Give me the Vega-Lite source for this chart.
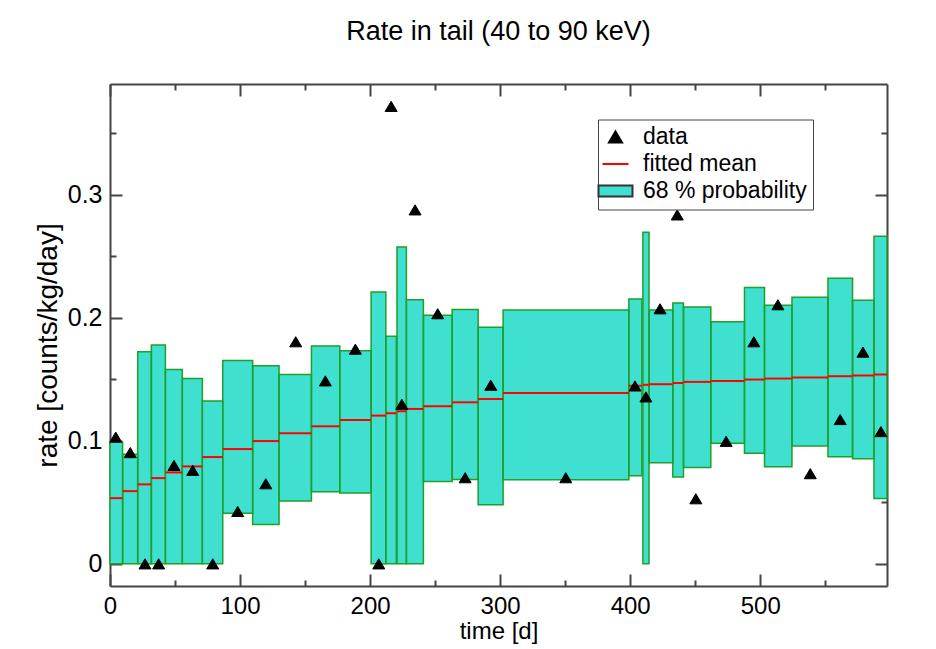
{
  "$schema": "https://vega.github.io/schema/vega-lite/v6.json",
  "autosize": "none",
  "width": 777,
  "height": 502,
  "padding": {"left": 110, "top": 84, "right": 49, "bottom": 63},
  "background": "white",
  "title": {"text": "Rate in tail (40 to 90 keV)", "fontSize": 27, "fontWeight": "normal", "font": "Liberation Sans", "color": "black", "anchor": "middle", "frame": "group", "offset": 37},
  "datasets": {
    "boxes": [
      {"x1": 0, "x2": 9.7, "lo": 0, "hi": 0.099, "mean": 0.0534},
      {"x1": 9.7, "x2": 21.3, "lo": 0, "hi": 0.089, "mean": 0.0591},
      {"x1": 21.3, "x2": 31.8, "lo": 0, "hi": 0.1723, "mean": 0.0646},
      {"x1": 31.8, "x2": 42.6, "lo": 0, "hi": 0.1778, "mean": 0.0697},
      {"x1": 42.6, "x2": 55.6, "lo": 0, "hi": 0.158, "mean": 0.0743},
      {"x1": 55.6, "x2": 71.0, "lo": 0, "hi": 0.1506, "mean": 0.0792},
      {"x1": 71.0, "x2": 86.7, "lo": 0, "hi": 0.1324, "mean": 0.0868},
      {"x1": 86.7, "x2": 109.7, "lo": 0.0412, "hi": 0.1653, "mean": 0.0933},
      {"x1": 109.7, "x2": 130.0, "lo": 0.032, "hi": 0.161, "mean": 0.0998},
      {"x1": 130.0, "x2": 154.9, "lo": 0.051, "hi": 0.1539, "mean": 0.1061},
      {"x1": 154.9, "x2": 176.7, "lo": 0.0586, "hi": 0.177, "mean": 0.1118},
      {"x1": 176.7, "x2": 200.8, "lo": 0.0575, "hi": 0.1731, "mean": 0.117},
      {"x1": 200.8, "x2": 212.1, "lo": 0, "hi": 0.221, "mean": 0.1205},
      {"x1": 212.1, "x2": 220.2, "lo": 0, "hi": 0.185, "mean": 0.1224},
      {"x1": 220.7, "x2": 227.9, "lo": 0, "hi": 0.2576, "mean": 0.124},
      {"x1": 227.9, "x2": 241.0, "lo": 0, "hi": 0.2147, "mean": 0.1259},
      {"x1": 241.0, "x2": 263.1, "lo": 0.067, "hi": 0.202, "mean": 0.1281},
      {"x1": 263.1, "x2": 283.1, "lo": 0.0686, "hi": 0.2068, "mean": 0.1313},
      {"x1": 283.1, "x2": 302.3, "lo": 0.048, "hi": 0.1922, "mean": 0.134},
      {"x1": 302.3, "x2": 399.0, "lo": 0.0684, "hi": 0.2063, "mean": 0.1389},
      {"x1": 399.0, "x2": 409.0, "lo": 0.0717, "hi": 0.2153, "mean": 0.1447},
      {"x1": 409.8, "x2": 414.5, "lo": 0, "hi": 0.2695, "mean": 0.1455},
      {"x1": 414.5, "x2": 432.8, "lo": 0.0822, "hi": 0.2063, "mean": 0.146},
      {"x1": 432.8, "x2": 441.0, "lo": 0.0705, "hi": 0.212, "mean": 0.147},
      {"x1": 441.0, "x2": 462.0, "lo": 0.0784, "hi": 0.2087, "mean": 0.1479},
      {"x1": 462.0, "x2": 487.9, "lo": 0.098, "hi": 0.1968, "mean": 0.1487},
      {"x1": 487.9, "x2": 503.3, "lo": 0.0898, "hi": 0.2247, "mean": 0.1498},
      {"x1": 503.3, "x2": 524.4, "lo": 0.079, "hi": 0.2101, "mean": 0.1506},
      {"x1": 524.4, "x2": 552.1, "lo": 0.0958, "hi": 0.2166, "mean": 0.1515},
      {"x1": 552.1, "x2": 571.0, "lo": 0.0871, "hi": 0.2321, "mean": 0.1525},
      {"x1": 571.0, "x2": 587.5, "lo": 0.0855, "hi": 0.2142, "mean": 0.1531},
      {"x1": 587.5, "x2": 597.5, "lo": 0.0532, "hi": 0.2663, "mean": 0.1539}
    ],
    "points": [
      {"t": 4.4, "r": 0.103, "series": "data"},
      {"t": 15.6, "r": 0.0904, "series": "data"},
      {"t": 26.9, "r": 0, "series": "data"},
      {"t": 37.4, "r": 0, "series": "data"},
      {"t": 49.2, "r": 0.08, "series": "data"},
      {"t": 63.6, "r": 0.076, "series": "data"},
      {"t": 79, "r": 0, "series": "data"},
      {"t": 98.2, "r": 0.0426, "series": "data"},
      {"t": 119.8, "r": 0.0651, "series": "data"},
      {"t": 142.8, "r": 0.1805, "series": "data"},
      {"t": 165.6, "r": 0.1487, "series": "data"},
      {"t": 188.7, "r": 0.1745, "series": "data"},
      {"t": 206.7, "r": 0, "series": "data"},
      {"t": 216.2, "r": 0.3718, "series": "data"},
      {"t": 224.4, "r": 0.1297, "series": "data"},
      {"t": 234.6, "r": 0.2877, "series": "data"},
      {"t": 252, "r": 0.2033, "series": "data"},
      {"t": 273.1, "r": 0.07, "series": "data"},
      {"t": 292.8, "r": 0.1452, "series": "data"},
      {"t": 350.5, "r": 0.07, "series": "data"},
      {"t": 403.7, "r": 0.1446, "series": "data"},
      {"t": 412.1, "r": 0.1357, "series": "data"},
      {"t": 423, "r": 0.2073, "series": "data"},
      {"t": 436.2, "r": 0.2836, "series": "data"},
      {"t": 450.5, "r": 0.0529, "series": "data"},
      {"t": 473.8, "r": 0.0996, "series": "data"},
      {"t": 495.1, "r": 0.1805, "series": "data"},
      {"t": 513.6, "r": 0.2106, "series": "data"},
      {"t": 538.5, "r": 0.0733, "series": "data"},
      {"t": 561.5, "r": 0.1173, "series": "data"},
      {"t": 579, "r": 0.1721, "series": "data"},
      {"t": 592.8, "r": 0.1075, "series": "data"}
    ]
  },
  "layer": [
    {
      "data": {"name": "boxes"},
      "mark": {"type": "rect", "fill": "#40E0D0", "strokeWidth": 0},
      "encoding": {
        "x": {"field": "x1", "type": "quantitative", "scale": {"domain": [0, 597.5], "nice": false, "zero": false},
          "axis": {"orient": "bottom", "values": [0, 100, 200, 300, 400, 500], "format": "d", "tickSize": -12, "labelPadding": 20, "labelFlush": false, "labelFontSize": 24, "title": "time [d]", "titlePadding": 1}},
        "x2": {"field": "x2"},
        "y": {"field": "lo", "type": "quantitative", "scale": {"domain": [-0.018, 0.39], "nice": false, "zero": false},
          "axis": {"orient": "left", "values": [0, 0.1, 0.2, 0.3], "format": ".1~f", "tickSize": -12, "labelPadding": 20, "labelFlush": false, "labelFontSize": 25, "title": "rate [counts/kg/day]", "titleFontSize": 28, "titlePadding": 5, "titleY": 261}},
        "y2": {"field": "hi"}
      }
    },
    {
      "data": {"name": "boxes"},
      "mark": {"type": "rect", "fill": null, "fillOpacity": 0, "stroke": "#1f9f2b", "strokeWidth": 1.5},
      "encoding": {
        "x": {"field": "x1", "type": "quantitative",
          "axis": {"orient": "bottom", "values": [50, 150, 250, 350, 450, 550], "tickSize": -6, "labels": false, "domain": false, "title": null}},
        "x2": {"field": "x2"},
        "y": {"field": "lo", "type": "quantitative",
          "axis": {"orient": "left", "values": [0.05, 0.15, 0.25, 0.35], "tickSize": -6, "labels": false, "domain": false, "title": null}},
        "y2": {"field": "hi"}
      }
    },
    {
      "data": {"name": "boxes"},
      "mark": {"type": "rule", "color": "#ff0000", "strokeWidth": 2},
      "encoding": {
        "x": {"field": "x1", "type": "quantitative",
          "axis": {"orient": "top", "values": [0, 100, 200, 300, 400, 500], "tickSize": -12, "labels": false, "title": null}},
        "x2": {"field": "x2"},
        "y": {"field": "mean", "type": "quantitative",
          "axis": {"orient": "right", "values": [0, 0.1, 0.2, 0.3], "tickSize": -12, "labels": false, "title": null}}
      }
    },
    {
      "data": {"name": "points"},
      "mark": {"type": "point", "filled": true, "size": 340, "strokeWidth": 1, "opacity": 1},
      "encoding": {
        "x": {"field": "t", "type": "quantitative",
          "axis": {"orient": "top", "values": [50, 150, 250, 350, 450, 550], "tickSize": -6, "labels": false, "domain": false, "title": null}},
        "y": {"field": "r", "type": "quantitative",
          "axis": {"orient": "right", "values": [0.05, 0.15, 0.25, 0.35], "tickSize": -6, "labels": false, "domain": false, "title": null}},
        "fill": {"field": "series", "type": "nominal",
          "scale": {"domain": ["data", "fitted mean", "68 % probability"], "range": ["black", "transparent", "#40E0D0"]}},
        "stroke": {"field": "series", "type": "nominal",
          "scale": {"domain": ["data", "fitted mean", "68 % probability"], "range": ["black", "#ff0000", "#333333"]}},
        "shape": {"field": "series", "type": "nominal",
          "scale": {"domain": ["data", "fitted mean", "68 % probability"], "range": ["M0,-0.55L0.65,0.55L-0.65,0.55Z", "M-1.3,0H1.3", "M-1.7,-0.55H1.7V0.55H-1.7Z"]}}
      }
    }
  ],
  "resolve": {"axis": {"x": "independent", "y": "independent"}},
  "config": {
    "view": {"stroke": null},
    "font": "Liberation Sans",
    "axis": {
      "grid": false,
      "domainColor": "#444444",
      "domainWidth": 2,
      "tickColor": "#444444",
      "tickWidth": 2,
      "labelFont": "Liberation Sans",
      "labelFontSize": 24,
      "labelColor": "black",
      "titleFont": "Liberation Sans",
      "titleFontSize": 24,
      "titleFontWeight": "normal",
      "titleColor": "black"
    },
    "legend": {
      "orient": "none",
      "legendX": 488,
      "legendY": 35.5,
      "title": null,
      "padding": 6,
      "rowPadding": 3,
      "strokeColor": "#444444",
      "fillColor": "white",
      "symbolSize": 400,
      "symbolStrokeWidth": 2,
      "labelFont": "Liberation Sans",
      "labelFontSize": 23,
      "labelColor": "black",
      "labelOffset": 16,
      "labelLimit": 400
    }
  }
}
